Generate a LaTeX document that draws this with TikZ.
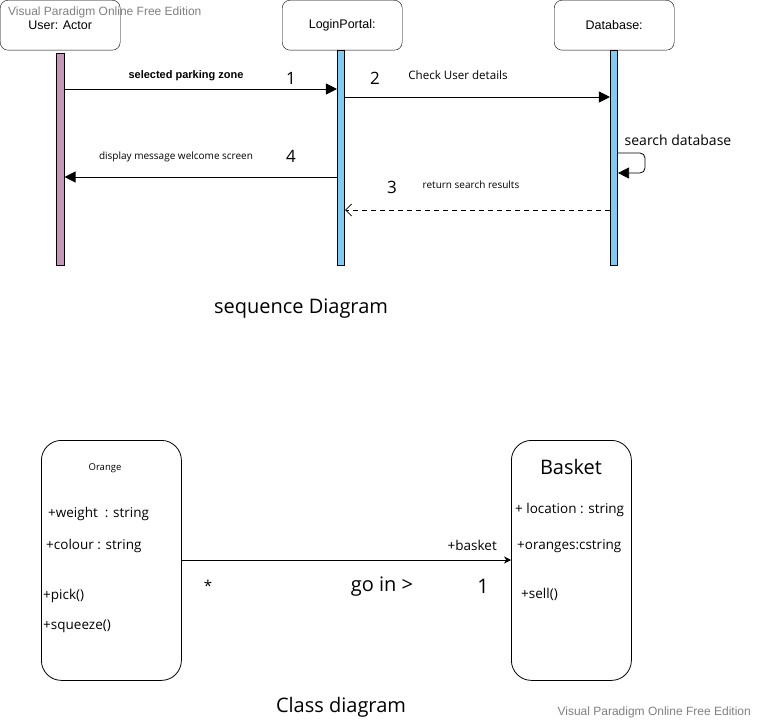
\documentclass[tikz,border=0pt]{standalone}
\usepackage{fontspec}
\setmainfont{Open Sans}
\newfontfamily\ar{Liberation Sans}
\usetikzlibrary{arrows.meta,calc}
\definecolor{barpink}{HTML}{C596B6}
\definecolor{barblue}{HTML}{7ECBF3}
\definecolor{wm}{HTML}{808080}
\begin{document}
\begin{tikzpicture}[x=1pt,y=-1pt,
  head/.style={draw,rounded corners=8pt,minimum width=120pt,minimum height=50pt,inner sep=0pt,anchor=north west,font=\ar\fontsize{12.5}{14}\selectfont},
  bar/.style={draw,line width=0.6pt,minimum width=7.5pt,inner sep=0pt,anchor=north},
  msg/.style={line width=0.8pt,-{Triangle[length=11pt,width=11pt]}},
  ret/.style={line width=0.8pt,dash pattern=on 5pt off 4pt,-{Straight Barb[length=6pt,width=12pt]}},
  num/.style={font=\fontsize{17}{20}\selectfont},
  cls/.style={draw,line width=0.8pt,rounded corners=20pt,anchor=north west,inner sep=0pt},
  attr/.style={anchor=west,font=\fontsize{13.5}{16}\selectfont,inner sep=0pt},
  big/.style={font=\fontsize{20}{24}\selectfont},
  wmk/.style={text=wm,font=\ar\fontsize{12}{14}\selectfont,inner sep=0pt}
]
\useasboundingbox (0,0) rectangle (757,722);
% watermark top
\node[wmk,anchor=west] (wm1) at (8,12) {Visual Paradigm Online Free Edition};
% headers
\node[head] (ua) at (0,0) {User: Actor};
\node[head] (lp) at (282,0) {LoginPortal:};
\node[head] (db) at (554,0) {Database:};
% bars
\node[bar,fill=barpink,minimum height=212pt] (ub) at (60.5,53) {};
\node[bar,fill=barblue,minimum height=215pt] (lb) at (341,50) {};
\node[bar,fill=barblue,minimum height=215pt] (dbb) at (614,50) {};
% messages
\draw[msg] (ub.east |- 0,89) -- (lb.west |- 0,89);
\node[font=\ar\bfseries\fontsize{11}{13}\selectfont] (t1) at (186,76) {selected parking zone};
\node[num] (n1) at (291,78) {1};
\draw[msg] (lb.east |- 0,97) -- (dbb.west |- 0,97);
\node[num] (n2) at (375,78) {2};
\node[font=\fontsize{11.6}{14}\selectfont] (t2) at (458,75) {Check User details};
\draw[msg,rounded corners=5pt] (dbb.east |- 0,153) -- (645,153) -- (645,173) -- (dbb.east |- 0,173);
\node[font=\fontsize{14}{16}\selectfont] (t3) at (678,140) {search database};
\draw[msg] (lb.west |- 0,177) -- (ub.east |- 0,177);
\node[font=\fontsize{10}{12}\selectfont] (t4) at (176,157) {display message welcome screen};
\node[num] (n4) at (291,156) {4};
\draw[ret] (dbb.west |- 0,210) -- (lb.east |- 0,210);
\node[num] (n3) at (392,187) {3};
\node[font=\fontsize{10}{12}\selectfont] (t5) at (471,185) {return search results};
\node[big] (sd) at (301,309) {sequence Diagram};
% class diagram
\node[cls,minimum width=140pt,minimum height=240pt] (or) at (41,440) {};
\node[cls,minimum width=120pt,minimum height=240pt] (bk) at (511,440) {};
\node[font=\fontsize{9.5}{11}\selectfont] (orn) at (105,468) {Orange};
\node[attr] (a1) at (48,514) {+weight\ \ : string};
\node[attr] (a2) at (46,546) {+colour : string};
\node[attr] (a3) at (43,596) {+pick()};
\node[attr] (a4) at (43,626) {+squeeze()};
\node[big] (bkn) at (571,467) {Basket};
\node[attr] (b1) at (515,510) {+ location : string};
\node[attr] (b2) at (517,546) {+oranges:cstring};
\node[attr] (b3) at (521,594) {+sell()};
\draw[line width=0.8pt,-{Stealth[length=7pt,width=7pt]}] (or.east |- 0,560) -- (bk.west |- 0,560);
\node[attr,anchor=east] (r1) at (497,545) {+basket};
\node[font=\fontsize{15}{17}\selectfont] (st) at (208,586) {*};
\node[big] (gi) at (382,587) {go in >};
\node[big] (m1) at (483,586) {1};
\node[big] (cd) at (341,707) {Class diagram};
\node[wmk,anchor=east] (wm2) at (751,712) {Visual Paradigm Online Free Edition};
\end{tikzpicture}
\end{document}
